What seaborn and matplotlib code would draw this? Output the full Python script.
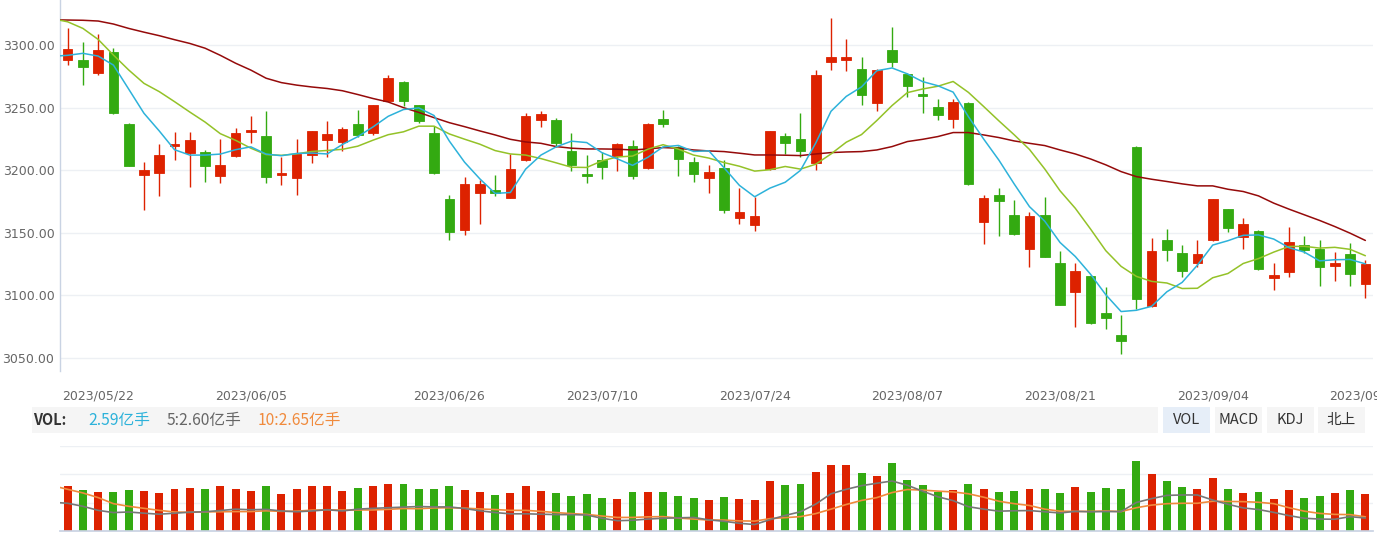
import numpy as np
import matplotlib
matplotlib.use("Agg")
import matplotlib.pyplot as plt
import seaborn as sns
from matplotlib.patches import Rectangle

# ---------------- data ----------------
dates = [
    "2023/05/18", "2023/05/19", "2023/05/22", "2023/05/23", "2023/05/24", "2023/05/25", "2023/05/26",
    "2023/05/29", "2023/05/30", "2023/05/31", "2023/06/01", "2023/06/02", "2023/06/05", "2023/06/06",
    "2023/06/07", "2023/06/08", "2023/06/09", "2023/06/12", "2023/06/13", "2023/06/14", "2023/06/15",
    "2023/06/16", "2023/06/19", "2023/06/20", "2023/06/21", "2023/06/26", "2023/06/27", "2023/06/28",
    "2023/06/29", "2023/06/30", "2023/07/03", "2023/07/04", "2023/07/05", "2023/07/06", "2023/07/07",
    "2023/07/10", "2023/07/11", "2023/07/12", "2023/07/13", "2023/07/14", "2023/07/17", "2023/07/18",
    "2023/07/19", "2023/07/20", "2023/07/21", "2023/07/24", "2023/07/25", "2023/07/26", "2023/07/27",
    "2023/07/28", "2023/07/31", "2023/08/01", "2023/08/02", "2023/08/03", "2023/08/04", "2023/08/07",
    "2023/08/08", "2023/08/09", "2023/08/10", "2023/08/11", "2023/08/14", "2023/08/15", "2023/08/16",
    "2023/08/17", "2023/08/18", "2023/08/21", "2023/08/22", "2023/08/23", "2023/08/24", "2023/08/25",
    "2023/08/28", "2023/08/29", "2023/08/30", "2023/08/31", "2023/09/01", "2023/09/04", "2023/09/05",
    "2023/09/06", "2023/09/07", "2023/09/08", "2023/09/11", "2023/09/12", "2023/09/13", "2023/09/14",
    "2023/09/15", "2023/09/18",
]

open_ = [3287.8, 3288.0, 3277.9, 3294.1, 3237.2, 3196.5, 3198.1, 3219.1, 3213.8, 3214.4,
         3195.7, 3211.2, 3230.6, 3227.7, 3196.5, 3193.6, 3212.2, 3224.5, 3222.6, 3237.2,
         3230.1, 3255.6, 3270.7, 3252.1, 3229.5, 3176.9, 3152.4, 3182.2, 3184.3, 3178.2,
         3208.0, 3240.4, 3239.9, 3215.4, 3197.1, 3208.2, 3211.7, 3219.4, 3201.6, 3241.0,
         3218.9, 3206.4, 3193.6, 3201.6, 3162.2, 3155.9, 3200.8, 3227.7, 3225.0, 3206.1,
         3286.2, 3287.8, 3281.1, 3253.5, 3296.0, 3276.9, 3260.1, 3250.5, 3241.2, 3254.0,
         3159.0, 3180.3, 3164.4, 3137.0, 3164.4, 3125.8, 3102.7, 3115.7, 3085.9, 3068.1,
         3218.9, 3091.2, 3144.4, 3133.8, 3125.8, 3144.4, 3168.9, 3146.5, 3151.6, 3113.6,
         3118.3, 3139.9, 3137.2, 3123.7, 3133.0, 3109.3]
high = [3313.3, 3302.4, 3308.5, 3297.6, 3237.6, 3206.6, 3221.0, 3230.3, 3230.3, 3216.2,
        3225.3, 3233.8, 3243.6, 3247.1, 3210.6, 3225.3, 3231.5, 3239.1, 3234.8, 3248.1,
        3252.5, 3276.1, 3271.2, 3252.5, 3235.4, 3180.3, 3194.4, 3192.3, 3196.3, 3213.0,
        3246.0, 3247.1, 3242.0, 3229.5, 3212.0, 3214.9, 3221.5, 3223.9, 3238.0, 3248.1,
        3219.7, 3210.4, 3204.3, 3208.2, 3185.6, 3178.9, 3231.5, 3229.5, 3245.5, 3280.3,
        3321.3, 3304.5, 3290.7, 3280.5, 3314.6, 3277.3, 3274.2, 3256.9, 3256.9, 3254.5,
        3180.3, 3185.6, 3176.4, 3167.0, 3178.9, 3135.1, 3125.8, 3116.0, 3106.4, 3084.6,
        3219.2, 3145.5, 3152.9, 3139.9, 3143.9, 3177.3, 3169.3, 3161.7, 3152.4, 3125.8,
        3154.5, 3147.1, 3143.9, 3134.6, 3141.8, 3128.5]
low = [3284.0, 3268.1, 3276.1, 3244.8, 3203.2, 3168.4, 3179.5, 3208.5, 3186.7, 3190.2,
       3189.4, 3210.5, 3221.8, 3189.4, 3187.8, 3180.6, 3206.1, 3210.4, 3215.7, 3226.9,
       3228.5, 3255.0, 3251.3, 3237.5, 3197.0, 3143.9, 3148.1, 3156.9, 3179.5, 3177.8,
       3207.0, 3234.3, 3218.9, 3199.7, 3189.6, 3192.8, 3199.7, 3193.1, 3201.0, 3234.3,
       3195.7, 3190.2, 3181.6, 3165.7, 3156.9, 3151.1, 3200.5, 3213.0, 3210.9, 3200.3,
       3280.3, 3279.5, 3252.4, 3247.3, 3282.7, 3258.8, 3246.0, 3240.2, 3234.0, 3188.5,
       3141.2, 3147.1, 3148.5, 3122.6, 3130.5, 3092.2, 3074.7, 3077.4, 3073.1, 3053.2,
       3089.4, 3090.7, 3127.1, 3114.4, 3122.6, 3143.1, 3150.3, 3137.0, 3120.5, 3104.5,
       3114.4, 3133.8, 3107.2, 3111.2, 3107.2, 3097.9]
close = [3296.8, 3282.2, 3295.7, 3245.5, 3203.7, 3200.3, 3212.0, 3220.7, 3223.9, 3203.7,
         3204.0, 3229.5, 3232.2, 3194.9, 3197.3, 3213.0, 3231.1, 3228.7, 3233.0, 3228.2,
         3252.1, 3273.4, 3255.6, 3239.6, 3197.6, 3150.3, 3189.1, 3189.1, 3181.6, 3201.1,
         3243.4, 3245.2, 3222.1, 3204.3, 3195.7, 3202.9, 3220.7, 3195.7, 3236.7, 3237.0,
         3208.8, 3196.8, 3198.4, 3168.4, 3167.0, 3163.6, 3231.1, 3222.1, 3215.7, 3275.8,
         3290.7, 3290.7, 3260.1, 3280.1, 3286.7, 3267.3, 3259.6, 3243.9, 3254.3, 3188.8,
         3177.7, 3175.5, 3148.9, 3163.6, 3130.8, 3092.6, 3119.7, 3077.7, 3081.9, 3063.8,
         3097.3, 3135.6, 3135.9, 3119.4, 3133.0, 3176.9, 3153.5, 3157.2, 3121.0, 3116.2,
         3142.5, 3135.9, 3122.3, 3125.8, 3116.8, 3125.3]

# volume in 亿手
volume = [3.16, 2.91, 2.77, 2.77, 2.91, 2.84, 2.67, 2.99, 3.06, 2.99,
          3.16, 2.99, 2.84, 3.16, 2.59, 2.99, 3.16, 3.16, 2.84, 3.06,
          3.16, 3.31, 3.31, 2.99, 2.99, 3.16, 2.91, 2.77, 2.52, 2.67,
          3.16, 2.84, 2.67, 2.49, 2.59, 2.35, 2.27, 2.77, 2.77, 2.77,
          2.49, 2.35, 2.17, 2.42, 2.27, 2.17, 3.56, 3.23, 3.31, 4.20,
          4.69, 4.69, 4.12, 3.88, 4.79, 3.63, 3.23, 2.74, 2.91, 3.31,
          2.99, 2.74, 2.84, 2.99, 2.99, 2.67, 3.14, 2.74, 3.06, 2.99,
          4.94, 4.05, 3.56, 3.14, 2.99, 3.73, 2.99, 2.67, 2.74, 2.27,
          2.91, 2.35, 2.49, 2.67, 2.91, 2.59]

# moving-average lines, read at the day before the first candle and at every candle
ma5 = [3291.0, 3291.8, 3293.4, 3291.2, 3284.0,
       3264.8, 3245.5, 3231.4, 3216.4, 3212.1, 3212.1, 3212.9, 3216.4, 3218.7, 3212.9,
       3211.6, 3213.4, 3213.7, 3213.0, 3220.6, 3226.8, 3234.6, 3243.1, 3248.5, 3249.8,
       3243.7, 3223.3, 3206.4, 3193.1, 3181.5, 3182.2, 3200.9, 3212.1, 3218.7, 3223.2,
       3222.1, 3214.0, 3209.1, 3203.9, 3210.3, 3218.6, 3219.8, 3215.0, 3215.5, 3201.9,
       3187.9, 3178.8, 3185.7, 3190.4, 3199.9, 3221.7, 3247.1, 3259.0, 3266.6, 3279.5,
       3281.7, 3277.0, 3270.8, 3267.5, 3262.4, 3242.8, 3224.9, 3208.0, 3189.0, 3170.9,
       3159.3, 3142.3, 3131.1, 3116.9, 3100.5, 3087.1, 3088.1, 3091.3, 3102.9, 3110.4,
       3124.2, 3140.2, 3143.7, 3148.0, 3148.3, 3145.0, 3138.1, 3134.6, 3127.6, 3128.5,
       3128.7, 3125.2]
ma10 = [3321.0, 3318.6, 3313.3, 3304.5, 3292.0, 3280.1, 3269.4, 3262.8, 3254.8, 3246.5,
        3238.5, 3229.2, 3223.9, 3217.6, 3212.5, 3211.9, 3213.1, 3215.0, 3215.8, 3216.7,
        3219.2, 3224.0, 3228.4, 3230.7, 3235.2, 3235.2, 3229.0, 3224.8, 3220.8, 3215.7,
        3213.0, 3212.1, 3209.3, 3205.9, 3202.4, 3202.2, 3207.5, 3210.6, 3211.3, 3216.8,
        3220.4, 3216.9, 3212.1, 3209.7, 3206.1, 3203.2, 3199.3, 3200.4, 3203.0, 3200.9,
        3204.8, 3213.0, 3222.4, 3228.5, 3239.7, 3251.7, 3262.0, 3264.9, 3267.1, 3270.9,
        3262.2, 3250.9, 3239.4, 3228.3, 3216.6, 3201.0, 3183.6, 3169.6, 3153.0, 3135.7,
        3123.2, 3115.2, 3111.2, 3109.9, 3105.5, 3105.7, 3114.1, 3117.5, 3125.5, 3129.4,
        3134.6, 3139.1, 3139.2, 3137.8, 3138.4, 3136.8, 3131.7]
ma30 = [3320.2, 3320.0, 3319.8, 3319.2, 3316.8, 3313.3, 3310.3, 3307.5, 3304.3, 3301.3,
        3297.5, 3291.8, 3285.5, 3280.0, 3273.5, 3270.0, 3268.0, 3266.5, 3265.3, 3263.5,
        3260.5, 3257.3, 3254.5, 3250.0, 3246.2, 3242.0, 3238.0,
        3234.8, 3231.4, 3228.2, 3224.7, 3222.6, 3221.5, 3218.9, 3217.6, 3217.0, 3217.0,
        3216.8, 3216.2, 3217.0, 3218.1, 3217.6, 3216.2, 3215.4, 3214.9, 3213.6, 3212.2,
        3212.2, 3212.0, 3211.7, 3213.0, 3214.1, 3214.6, 3214.9, 3216.2, 3218.9, 3222.9,
        3224.7, 3226.9, 3230.1, 3230.1, 3228.2, 3226.1, 3223.4, 3221.5, 3219.7, 3216.2,
        3213.0, 3209.0, 3204.3, 3198.9, 3194.9, 3192.8, 3191.0, 3189.1, 3187.5, 3187.5,
        3184.8, 3183.0, 3179.5, 3173.7, 3168.9, 3164.4, 3159.9, 3155.0, 3149.7, 3143.9]
vol_ma5 = [3.38, 3.33, 3.18, 2.98, 2.87,
           2.90, 2.84, 2.79, 2.84, 2.89, 2.91, 2.97, 3.04, 3.01, 3.03,
           2.95, 2.91, 2.95, 3.01, 2.95, 3.04, 3.08, 3.11, 3.14, 3.17,
           3.15, 3.15, 3.07, 2.96, 2.87, 2.81, 2.81, 2.79, 2.77, 2.77,
           2.75, 2.59, 2.47, 2.49, 2.55, 2.59, 2.61, 2.63, 2.51, 2.44,
           2.34, 2.28, 2.52, 2.73, 2.91, 3.29, 3.80, 4.02, 4.20, 4.32,
           4.43, 4.22, 3.93, 3.65, 3.46, 3.16, 3.04, 2.94, 2.96, 2.97,
           2.91, 2.85, 2.93, 2.91, 2.92, 2.92, 3.37, 3.56, 3.72, 3.74,
           3.74, 3.49, 3.28, 3.10, 3.02, 2.88, 2.72, 2.59, 2.55, 2.54,
           2.67, 2.60]
vol_ma10 = [4.20, 4.02, 3.84, 3.61, 3.31, 3.18, 3.08, 2.98, 2.90, 2.88,
            2.91, 2.91, 2.92, 2.92, 2.96, 2.93, 2.94, 2.99, 3.01, 2.99,
            3.00, 3.00, 3.03, 3.07, 3.06, 3.10, 3.11, 3.09, 3.05, 3.02,
            2.98, 2.98, 2.93, 2.87, 2.82, 2.78, 2.70, 2.63, 2.63, 2.66,
            2.67, 2.60, 2.55, 2.50, 2.50, 2.46, 2.45, 2.57, 2.62, 2.67,
            2.82, 3.04, 3.27, 3.47, 3.61, 3.86, 4.01, 3.98, 3.93, 3.89,
            3.80, 3.63, 3.43, 3.31, 3.22, 3.04, 2.94, 2.93, 2.93, 2.95,
            2.92, 3.11, 3.24, 3.31, 3.33, 3.33, 3.43, 3.42, 3.41, 3.38,
            3.31, 3.11, 2.94, 2.83, 2.78, 2.77, 2.66]

tick_dates = ["2023/05/22", "2023/06/05", "2023/06/26", "2023/07/10", "2023/07/24",
              "2023/08/07", "2023/08/21", "2023/09/04", "2023/09/18"]
price_ticks = [3050, 3100, 3150, 3200, 3250, 3300]
vol_ticks = [2, 4, 6]
vol_label = "VOL:"
vol_now = "2.59亿手"
vol_ma5_now = "5:2.60亿手"
vol_ma10_now = "10:2.65亿手"
buttons = ["VOL", "MACD", "KDJ", "北上"]

n = len(dates)
assert len(open_) == n and len(high) == n and len(low) == n and len(close) == n and len(volume) == n
for arr in (ma5, ma10, ma30, vol_ma5, vol_ma10):
    assert len(arr) == n + 1, len(arr)

# ---------------- style ----------------
RED = "#dd2200"
GREEN = "#33aa11"
C_MA5 = "#2db2da"
C_MA10 = "#94c228"
C_MA30 = "#950a0a"
C_VMA5 = "#777777"
C_VMA10 = "#f08a3c"
GRID = "#edf0f4"
AXIS = "#c9d3e3"
LABEL = "#666666"

sns.set_theme(style="white")
plt.rcParams["font.family"] = ["DejaVu Sans", "Noto Sans CJK SC"]
CJK = ["Noto Sans CJK SC", "DejaVu Sans"]

W, H = 1377, 533
fig = plt.figure(figsize=(W / 100, H / 100), dpi=100)
fig.patch.set_facecolor("white")


def fx(px):
    return px / W


def fy(py):
    return 1 - py / H


idx = np.arange(n)
line_x = np.arange(-1, n)
o = np.array(open_)
c = np.array(close)
hi = np.array(high)
lo = np.array(low)
up = c >= o
cols = np.where(up, RED, GREEN)

# ---------------- main candlestick panel ----------------
ax = fig.add_axes([fx(60), fy(371), fx(1313), 371 / H])
ax.vlines(idx, lo, hi, colors=cols, linewidth=1.0, zorder=2)
body_lo = np.minimum(o, c)
body_h = np.maximum(np.abs(c - o), 1.3)
ax.bar(idx, body_h, bottom=body_lo, width=0.63, color=cols, edgecolor=cols,
       linewidth=0.6, zorder=2.5)

for vals, colr in [(ma30, C_MA30), (ma10, C_MA10), (ma5, C_MA5)]:
    sns.lineplot(x=line_x, y=vals, color=colr, linewidth=1.1, ax=ax, zorder=3)

ax.set_xlim(-0.5, n - 0.5)
ax.set_ylim(3039.6, 3336.0)
ax.set_yticks(price_ticks)
ax.set_yticklabels([f"{v:.2f}" for v in price_ticks])
ax.set_xticks([dates.index(d) for d in tick_dates])
ax.set_xticklabels(tick_dates)
ax.tick_params(axis="both", length=0, labelsize=9, labelcolor=LABEL)
ax.tick_params(axis="y", pad=4)
ax.tick_params(axis="x", pad=13)
ax.grid(axis="y", color=GRID, linewidth=1)
ax.grid(axis="x", visible=False)
ax.set_axisbelow(True)
for s in ["top", "right", "bottom"]:
    ax.spines[s].set_visible(False)
ax.spines["left"].set_color(AXIS)
ax.spines["left"].set_linewidth(1)
ax.set_xlabel("")
ax.set_ylabel("")

# ---------------- volume header bar ----------------
fig.add_artist(Rectangle((fx(32), fy(433)), fx(1126), 26 / H, transform=fig.transFigure,
                         facecolor="#f5f5f5", edgecolor="none", zorder=0))
ty = fy(420)
fig.text(fx(33), ty, vol_label, fontsize=10.5, fontweight="bold", color="#333333",
         va="center", ha="left", family=CJK)
fig.text(fx(88), ty, vol_now, fontsize=11.3, color=C_MA5, va="center", ha="left", family=CJK)
fig.text(fx(167), ty, vol_ma5_now, fontsize=11.3, color="#666666", va="center", ha="left", family=CJK)
fig.text(fx(258), ty, vol_ma10_now, fontsize=11.3, color=C_VMA10, va="center", ha="left", family=CJK)

btn_left = [1163, 1215, 1267, 1318]
btn_w = 47
for k, (name, x0) in enumerate(zip(buttons, btn_left)):
    bg = "#e6eef8" if k == 0 else "#f5f5f5"
    fig.add_artist(Rectangle((fx(x0), fy(433)), fx(btn_w), 26 / H, transform=fig.transFigure,
                             facecolor=bg, edgecolor="none", zorder=0))
    fig.text(fx(x0 + btn_w / 2), ty, name, fontsize=10.5, color="#333333",
             va="center", ha="center", family=CJK)

# ---------------- volume panel ----------------
axv = fig.add_axes([fx(60), fy(531), fx(1313), 85 / H])
axv.bar(idx, volume, width=0.52, color=cols, edgecolor="none", zorder=2)
axv.set_xlim(-0.5, n - 0.5)
axv.set_ylim(0, 6)
axv.set_yticks(vol_ticks)
axv.grid(axis="y", color=GRID, linewidth=1)
axv.grid(axis="x", visible=False)
axv.set_axisbelow(True)
axv.tick_params(axis="both", length=0, labelbottom=False, labelleft=False)
for s in ["top", "right", "left"]:
    axv.spines[s].set_visible(False)
axv.spines["bottom"].set_color(AXIS)
axv.set_xlabel("")
axv.set_ylabel("")

axv2 = axv.twinx()
for vals, colr in [(vol_ma10, C_VMA10), (vol_ma5, C_VMA5)]:
    sns.lineplot(x=line_x, y=vals, color=colr, linewidth=1.2, ax=axv2, zorder=3)
axv2.set_xlim(-0.5, n - 0.5)
axv2.set_ylim(1.96, 6.16)
axv2.set_yticks([])
axv2.set_ylabel("")
for s in axv2.spines.values():
    s.set_visible(False)

fig.savefig("out.png", dpi=100, facecolor="white")
